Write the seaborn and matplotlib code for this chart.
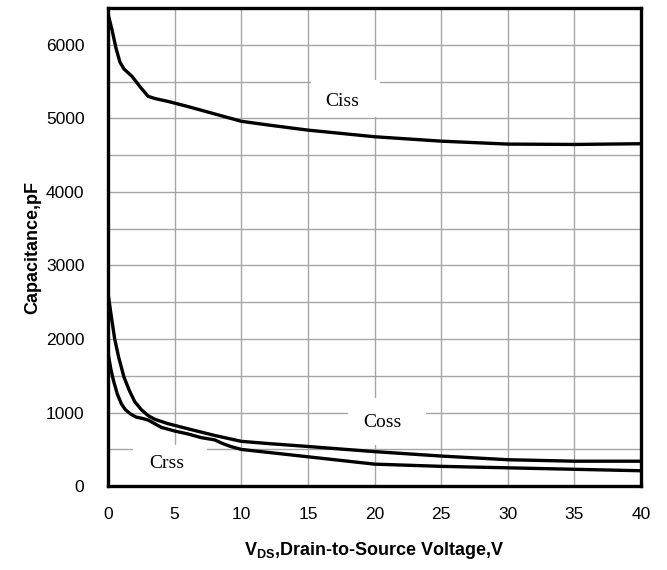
import numpy as np
import pandas as pd
import matplotlib
matplotlib.use("Agg")
import matplotlib.pyplot as plt
from matplotlib.patches import Rectangle
import seaborn as sns

# values
ciss_v = [0, 0.3, 0.6, 0.9, 1.2, 1.8, 2.4, 3.0, 3.5, 4.5, 6, 8, 10, 12, 15, 20, 25, 30, 35, 40]
ciss_c = [6420, 6200, 5950, 5760, 5670, 5570, 5430, 5300, 5270, 5230, 5160, 5060, 4960, 4910, 4840, 4750, 4690, 4650, 4645, 4655]

coss_v = [0, 0.25, 0.5, 0.8, 1.2, 1.6, 2.0, 2.5, 3.0, 3.5, 4.5, 6, 8, 10, 12, 15, 20, 25, 30, 35, 40]
coss_c = [2620, 2300, 2000, 1750, 1480, 1300, 1150, 1040, 960, 910, 850, 780, 690, 610, 580, 540, 470, 410, 360, 340, 340]

crss_v = [0, 0.2, 0.4, 0.7, 1.0, 1.3, 1.7, 2.1, 2.6, 3.0, 3.5, 4.0, 5.0, 6.0, 7.0, 8.0, 8.6, 9.2, 10, 12, 15, 20, 25, 30, 35, 40]
crss_c = [1810, 1600, 1440, 1250, 1120, 1040, 980, 940, 920, 900, 850, 800, 750, 710, 660, 630, 580, 540, 500, 460, 400, 300, 270, 250, 230, 210]

labels = ["Ciss", "Coss", "Crss"]
label_xy = [(17.6, 5224), (20.6, 871), (4.4, 313)]
# white boxes behind labels (x0, y0, x1, y1)
label_box = [(15.2, 5020, 20.4, 5524), (18.0, 558, 23.9, 1197), (1.9, 0, 7.4, 558)]

sns.set_style("white")
plt.rcParams['font.family'] = ['Liberation Sans', 'DejaVu Sans']
plt.rcParams['text.color'] = 'black'
plt.rcParams['axes.labelcolor'] = 'black'
plt.rcParams['xtick.color'] = 'black'
plt.rcParams['ytick.color'] = 'black'

fig = plt.figure(figsize=(6.67, 5.7), dpi=100)
ax = fig.add_axes([0.162, 0.147, 0.799, 0.839])

for v, c in [(ciss_v, ciss_c), (coss_v, coss_c), (crss_v, crss_c)]:
    df = pd.DataFrame({"V": v, "C": c})
    sns.lineplot(data=df, x="V", y="C", ax=ax, color="black", linewidth=2.4, zorder=4)

ax.set_xlim(0, 40)
ax.set_ylim(0, 6500)
ax.set_xticks(np.arange(0, 41, 5))
ax.set_yticks(np.arange(0, 6001, 1000))
ax.set_yticks(np.arange(0, 6501, 500), minor=True)
ax.grid(True, which="major", axis="x", color="#a6a6a6", linewidth=1.0, zorder=0)
ax.grid(True, which="both", axis="y", color="#a6a6a6", linewidth=1.0, zorder=0)
ax.set_axisbelow(True)

for (x0, y0, x1, y1) in label_box:
    ax.add_patch(Rectangle((x0, y0), x1 - x0, y1 - y0, facecolor="white",
                           edgecolor="none", zorder=2))
for name, (x, y) in zip(labels, label_xy):
    ax.text(x, y, name, ha="center", va="center", fontsize=14,
            family=["Liberation Serif", "DejaVu Serif"], zorder=5)

ax.tick_params(axis="both", which="both", length=0, labelsize=12.5)
ax.tick_params(axis="x", pad=15)
ax.tick_params(axis="y", pad=17)

for s in ax.spines.values():
    s.set_color("black")
    s.set_linewidth(2.4)
    s.set_zorder(6)

ax.set_xlabel(r"V$_{\mathregular{DS}}$,Drain-to-Source Voltage,V", fontsize=13,
              fontweight="bold", labelpad=13)
ax.set_ylabel("Capacitance,pF", fontsize=13, fontweight="bold", labelpad=3)

fig.savefig("out.png", dpi=100)
